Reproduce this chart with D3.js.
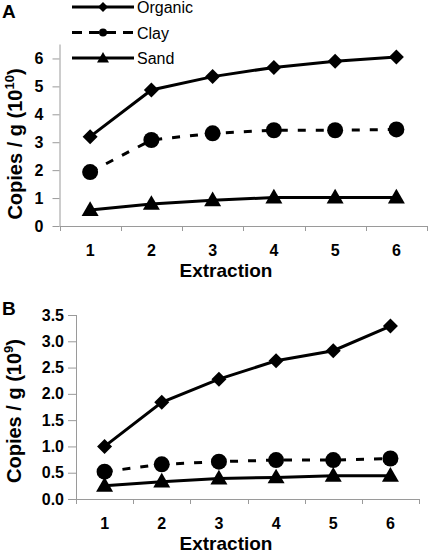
<!DOCTYPE html>
<html><head><meta charset="utf-8">
<script src="https://cdn.jsdelivr.net/npm/d3@7"></script>
<style>body{margin:0;background:#fff}svg{display:block;font-family:"Liberation Sans",Arial,sans-serif}</style>
</head><body><svg id="c" width="428" height="558"></svg>
<script>
const categories = ["1","2","3","4","5","6"];
const seriesNames = ["Organic","Clay","Sand"];
// Panel A (x10^10)
const organicA = [3.2, 4.87, 5.35, 5.68, 5.9, 6.05];
const clayA    = [1.93, 3.08, 3.32, 3.43, 3.43, 3.46];
const sandA    = [0.57, 0.79, 0.92, 1.02, 1.02, 1.02];
const ticksA   = [0,1,2,3,4,5,6];
// Panel B (x10^9)
const organicB = [1.0, 1.84, 2.28, 2.63, 2.82, 3.29];
const clayB    = [0.52, 0.66, 0.71, 0.74, 0.74, 0.77];
const sandB    = [0.25, 0.33, 0.39, 0.41, 0.44, 0.44];
const ticksB   = [0.0,0.5,1.0,1.5,2.0,2.5,3.0,3.5];

const svg = d3.select("#c");
const GREY = "#9a9a9a";

function marker(g, type, x, y, s) {
  if (type === "Organic") {
    g.append("path").attr("d", d3.symbol(d3.symbolSquare, s*s/2)())
     .attr("transform", `translate(${x},${y}) rotate(45)`).attr("fill","#000");
  } else if (type === "Clay") {
    g.append("circle").attr("cx", x).attr("cy", y).attr("r", s/2).attr("fill","#000");
  } else {
    g.append("path").attr("d", d3.symbol(d3.symbolTriangle, Math.sqrt(3)/4*s*s)())
     .attr("transform", `translate(${x},${y+1})`).attr("fill","#000");
  }
}

function panel(opt) {
  const g = svg.append("g");
  const x = d3.scaleBand().domain(categories).range([opt.left, opt.right]).padding(0);
  const y = d3.scaleLinear().domain([0, opt.ymax]).range([opt.bottom, opt.top]);

  const ya = g.append("g").attr("transform", `translate(${opt.left},0)`)
    .call(d3.axisLeft(y).tickValues(opt.ticks).tickSize(opt.tick).tickPadding(opt.pad)
      .tickFormat(opt.fmt));
  ya.select(".domain").attr("stroke", GREY).attr("d", `M0.5,${y(opt.ymax)}V${y(0)}`);
  ya.selectAll(".tick line").attr("stroke", GREY);
  ya.selectAll("text").attr("font-size", 16).attr("font-weight","bold")
    .attr("font-family","Liberation Sans, Arial, sans-serif").attr("fill","#000");

  const bounds = categories.map(c => x(c)).concat([opt.right]);
  g.append("line").attr("x1", opt.left).attr("x2", opt.right)
    .attr("y1", opt.bottom+0.5).attr("y2", opt.bottom+0.5).attr("stroke", GREY);
  g.selectAll(".xt").data(bounds).join("line")
    .attr("x1", d => Math.round(d)+0.5).attr("x2", d => Math.round(d)+0.5)
    .attr("y1", opt.bottom).attr("y2", opt.bottom+5).attr("stroke", GREY);
  g.selectAll(".xl").data(categories).join("text")
    .attr("x", d => x(d) + x.bandwidth()/2).attr("y", opt.bottom + 30)
    .attr("text-anchor","middle").attr("font-size",16).attr("font-weight","bold").text(d => d);
  g.append("text").attr("x", 226).attr("y", opt.bottom + 51)
    .attr("text-anchor","middle").attr("font-size",19).attr("font-weight","bold").text("Extraction");

  const yl = g.append("text").attr("transform", `translate(${opt.ylx},${opt.yly}) rotate(-90)`)
    .attr("text-anchor","middle").attr("font-size",20).attr("font-weight","bold");
  yl.append("tspan").text("Copies / g (10");
  yl.append("tspan").attr("font-size",13).attr("dy",-8).text(opt.exp);
  yl.append("tspan").attr("dy",8).text(")");

  g.append("text").attr("x", 2).attr("y", opt.letterY).attr("font-size",19)
    .attr("font-weight","bold").text(opt.letter);

  const cx = d => x(d) + x.bandwidth()/2;
  const data = [opt.organic, opt.clay, opt.sand];
  seriesNames.forEach((name, i) => {
    const vals = data[i];
    const line = d3.line().x((d,j) => cx(categories[j])).y(d => y(d));
    g.append("path").datum(vals).attr("d", line).attr("fill","none")
      .attr("stroke","#000").attr("stroke-width",3)
      .attr("stroke-dasharray", name === "Clay" ? "8,10" : null);
    vals.forEach((v,j) => marker(g, name, cx(categories[j]), y(v), name==="Sand"?17:(name==="Clay"?16:15)));
  });
}

panel({left:59.5, right:427, top:44.5, bottom:226, ymax:6.5, ticks:ticksA, tick:7, pad:9,
  fmt:d3.format("d"), organic:organicA, clay:clayA, sand:sandA, exp:"10",
  ylx:22, yly:144, letter:"A", letterY:18});
panel({left:76, right:419, top:315, bottom:499, ymax:3.5, ticks:ticksB, tick:8, pad:4,
  fmt:d3.format(".1f"), organic:organicB, clay:clayB, sand:sandB, exp:"9",
  ylx:21, yly:411, letter:"B", letterY:315});

const lg = svg.append("g");
const legendY = d3.scalePoint().domain(seriesNames).range([7, 58]);
seriesNames.forEach(name => {
  const yy = legendY(name);
  lg.append("line").attr("x1",72).attr("x2",134).attr("y1",yy).attr("y2",yy)
    .attr("stroke","#000").attr("stroke-width",3)
    .attr("stroke-dasharray", name==="Clay" ? "10,7" : null);
  marker(lg, name, 103, yy, name==="Sand"?12:(name==="Clay"?8:10));
  lg.append("text").attr("x",137).attr("y",yy+6).attr("font-size",16).text(name);
});
</script></body></html>
